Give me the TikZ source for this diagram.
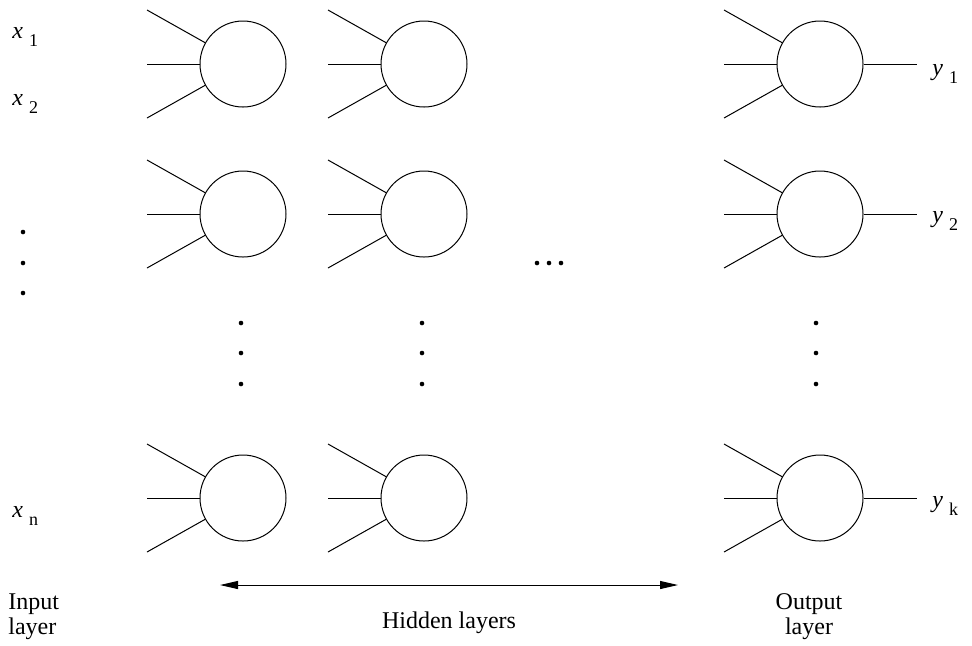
\documentclass[tikz,border=0pt]{standalone}
\usepackage{fontspec}
\setmainfont{Liberation Serif}
\usetikzlibrary{positioning, calc, arrows.meta}

\newcommand{\layidx}[1]{~\raisebox{-4pt}{\fontsize{9}{9}\selectfont #1}}

\begin{document}
\begin{tikzpicture}[
            x=0.5pt, y=-0.5pt,
            every node/.style={font=\fontsize{12}{12.5}\selectfont},
            neuron/.style={circle, draw, line width=0.5pt, minimum size=43pt, inner sep=0pt},
            wire/.style={line width=0.5pt},
            blob/.style={circle, fill, inner sep=0pt, minimum size=2.3pt},
            lbl/.style={anchor=base west, inner sep=0pt},
            arrow/.style={{Triangle[length=9pt,width=4pt]}-{Triangle[length=9pt,width=4pt]}, line width=0.5pt}
        ]
            \useasboundingbox (0,0) rectangle (972,645);

            % neurons
            \node[neuron] (h1a) at (243,64) {};
            \node[neuron, below=31.5pt of h1a] (h1b) {};
            \node[neuron, below=98.5pt of h1b] (h1c) {};
            \node[neuron, right=47pt of h1a] (h2a) {};
            \node[neuron, right=47pt of h1b] (h2b) {};
            \node[neuron, right=47pt of h1c] (h2c) {};
            \node[neuron, right=154.5pt of h2a] (outa) {};
            \node[neuron, right=154.5pt of h2b] (outb) {};
            \node[neuron, right=154.5pt of h2c] (outc) {};

            % incoming wires
            \foreach \n in {h1a,h1b,h1c,h2a,h2b,h2c,outa,outb,outc} {
                \coordinate (\n-i1) at ($(\n)+(-96,-54)$);
                \coordinate (\n-i2) at ($(\n)+(-96,0)$);
                \coordinate (\n-i3) at ($(\n)+(-96,54)$);
                \draw[wire] (\n-i1) -- (\n);
                \draw[wire] (\n-i2) -- (\n);
                \draw[wire] (\n-i3) -- (\n);
            }

            % outgoing wires
            \foreach \n in {outa,outb,outc} {
                \coordinate (\n-o) at ($(\n)+(97,0)$);
                \draw[wire] (\n) -- (\n-o);
            }

            % inputs and outputs
            \node[lbl] (x1) at (12,38) {\textit{x}\layidx{1}};
            \node[lbl] (x2) at (12,105) {\textit{x}\layidx{2}};
            \node[lbl] (xn) at (12,517) {\textit{x}\layidx{n}};
            \node[lbl] (y1) at (932,75) {\textit{y}\layidx{1}};
            \node[lbl] (y2) at (932,222) {\textit{y}\layidx{2}};
            \node[lbl] (yk) at (932,507) {\textit{y}\layidx{k}};

            % dots
            \foreach \yy in {232,263,293}
                \node[blob] (in\yy) at (23,\yy) {};
            \foreach \yy in {323,353,384} {
                \node[blob] (ca\yy) at (241,\yy) {};
                \node[blob] (cb\yy) at (422,\yy) {};
                \node[blob] (cc\yy) at (816,\yy) {};
            }
            \foreach \xx in {537,549,561}
                \node[blob] (mid\xx) at (\xx,263) {};

            % layer captions
            \coordinate (hl) at (220,585);
            \coordinate (hr) at (678,585);
            \draw[arrow] (hl) -- (hr);
            \node[anchor=base, inner sep=0pt] (hid) at (449,628) {Hidden layers};
            \node[anchor=north west, inner sep=0pt, align=left] (inl) at (8,593) {Input\\layer};
            \node[anchor=north, inner sep=0pt, align=center] (outl) at (809,593) {Output\\layer};
        \end{tikzpicture}
\end{document}
